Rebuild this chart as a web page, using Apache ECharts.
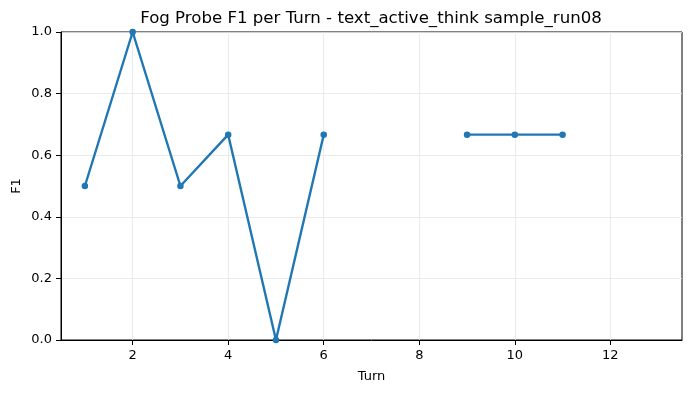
<!DOCTYPE html>
<html>
<head>
<meta charset="utf-8">
<script src="https://cdn.jsdelivr.net/npm/echarts@6/dist/echarts.min.js"></script>
<style>html,body{margin:0;padding:0;background:#fff}#c{width:691px;height:393px}</style>
</head>
<body>
<div id="c"></div>
<script>
var turns = [1, 2, 3, 4, 5, 6, 7, 8, 9, 10, 11, 12, 13];
var f1 = [0.5, 1.0, 0.5, 0.6667, 0.0, 0.6667, null, null, 0.6667, 0.6667, 0.6667, null, null];
var xTicks = [2, 4, 6, 8, 10, 12];
var yTicks = [0, 0.2, 0.4, 0.6, 0.8, 1.0];
var titleText = 'Fog Probe F1 per Turn - text_active_think sample_run08';

var font = 'DejaVu Sans';
var data = turns.map(function (t, i) { return [t, f1[i] === null ? '-' : f1[i]]; });

var chart = echarts.init(document.getElementById('c'), null, {renderer: 'canvas'});
chart.setOption({
  animation: false,
  backgroundColor: '#fff',
  title: {
    text: titleText,
    left: 366, top: 5, textAlign: 'center',
    textStyle: {fontFamily: font, fontSize: 16.6, fontWeight: 'normal', color: '#000'}
  },
  grid: {left: 61, right: 9, top: 32, bottom: 53, show: true, borderColor: '#000', borderWidth: 1, containLabel: false},
  xAxis: {
    type: 'value', min: 0.5, max: 13.5,
    name: 'Turn', nameLocation: 'middle', nameGap: 30, nameMoveOverlap: false,
    nameTextStyle: {fontFamily: font, fontSize: 13, color: '#000'},
    axisLine: {show: true, onZero: false, lineStyle: {color: '#000', width: 1}},
    axisTick: {show: true, length: 5, customValues: xTicks, lineStyle: {color: '#000'}},
    axisLabel: {customValues: xTicks, margin: 9, fontFamily: font, fontSize: 13, color: '#000'},
    splitLine: {show: true, lineStyle: {color: '#e6e6e6', width: 0.8}}
  },
  yAxis: {
    type: 'value', min: 0, max: 1, interval: 0.2,
    name: 'F1', nameLocation: 'middle', nameGap: 38, nameMoveOverlap: false,
    nameTextStyle: {fontFamily: font, fontSize: 13, color: '#000'},
    axisLine: {show: true, lineStyle: {color: '#000', width: 1}},
    axisTick: {show: true, length: 5, lineStyle: {color: '#000'}},
    axisLabel: {margin: 9, fontFamily: font, fontSize: 13, color: '#000',
      formatter: function (v) { return v.toFixed(1); }},
    splitLine: {show: true, lineStyle: {color: '#e6e6e6', width: 0.8}}
  },
  series: [{
    type: 'line', data: data, connectNulls: false,
    symbol: 'circle', symbolSize: 6.5, showAllSymbol: true,
    lineStyle: {color: '#1f77b4', width: 2.4},
    itemStyle: {color: '#1f77b4'},
    clip: true
  }]
});
</script>
</body>
</html>
